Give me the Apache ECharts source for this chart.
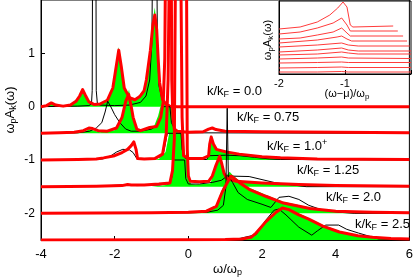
<!DOCTYPE html>
<html><head><meta charset="utf-8">
<script src="https://cdn.jsdelivr.net/npm/echarts@6/dist/echarts.min.js"></script>
<style>html,body{margin:0;padding:0;background:#fff}#c{width:416px;height:280px}</style>
</head><body><div id="c"></div>
<script>
// ---- main panel data: [omega/omega_p, height above the curve's baseline] ----
const offsets = [0, -0.5, -1, -1.5, -2, -2.5];
const rowLabels = ['0.0', '0.75', '1.0', '1.25', '2.0', '2.5'];
const xTicks = [-4, -2, 0, 2, 4, 6];
const yTicks = [-2, -1, 0, 1];

const red0 = [[-4,0],[-3.85,0.02],[-3.72,0.07],[-3.6,0.03],[-3.4,0.01],[-3.2,0.03],[-3.05,0.1],[-2.95,0.2],[-2.87,0.32],[-2.8,0.22],[-2.7,0.09],[-2.55,0.04],[-2.4,0.05],[-2.2,0.12],[-2.05,0.35],[-1.97,0.7],[-1.89,1.06],[-1.82,0.75],[-1.74,0.35],[-1.6,0.17],[-1.45,0.13],[-1.32,0.19],[-1.2,0.3],[-1.14,0.5],[-1.03,1.06],[-0.96,1.55],[-0.91,1.72],[-0.86,1.45],[-0.82,0.9],[-0.78,0.45],[-0.7,0.13],[-0.6,0.04],[-0.5,0.01],[-0.3,0],[6,0]];
const green0 = [[-4,0],[-3.85,0.03],[-3.72,0.08],[-3.6,0.03],[-3.4,0.01],[-3.2,0.04],[-3.05,0.1],[-2.95,0.2],[-2.87,0.3],[-2.8,0.2],[-2.7,0.08],[-2.55,0.04],[-2.4,0.05],[-2.2,0.12],[-2.05,0.35],[-1.97,0.72],[-1.89,1.12],[-1.82,0.75],[-1.74,0.35],[-1.6,0.17],[-1.45,0.13],[-1.32,0.19],[-1.2,0.3],[-1.14,0.5],[-1.03,1.1],[-0.96,1.65],[-0.91,1.86],[-0.86,1.5],[-0.82,0.9],[-0.78,0.45],[-0.7,0.13],[-0.6,0.04],[-0.5,0],[6,0]];
const black0 = [[-4,0],[-3,0.01],[-2.7,0.02],[-2.63,0.05],[-2.61,0.3],[-2.6,3],[-2.51,3],[-2.5,0.3],[-2.47,0.06],[-2.4,0.03],[-2,0.02],[-1.6,0.03],[-1.3,0.08],[-1.15,0.2],[-1.05,0.5],[-0.99,1.2],[-0.97,3],[-0.86,3],[-0.84,1.2],[-0.8,0.4],[-0.72,0.15],[-0.6,0.05],[-0.45,0.01],[-0.3,0],[6,0]];

const red1 = [[-4,0],[-3.5,0.01],[-3.1,0.02],[-2.85,0.05],[-2.7,0.1],[-2.6,0.09],[-2.45,0.05],[-2.2,0.04],[-1.95,0.1],[-1.8,0.3],[-1.7,0.6],[-1.62,0.73],[-1.55,0.5],[-1.5,0.3],[-1.4,0.08],[-1.3,0.05],[-1.05,0.11],[-0.86,0.13],[-0.75,0.3],[-0.68,0.6],[-0.64,1.4],[-0.61,4],[-0.47,4],[-0.45,1.0],[-0.42,0.3],[-0.38,0.08],[-0.3,0.04],[0,0.02],[0.4,0.03],[0.55,0.08],[0.65,0.1],[0.75,0.07],[1,0.04],[2,0.03],[4,0.02],[6,0.01]];
const green1 = [[-4,0],[-3,0.01],[-2.8,0.03],[-2.7,0.08],[-2.6,0.06],[-2.4,0.02],[-2.0,0.06],[-1.85,0.18],[-1.75,0.4],[-1.66,0.7],[-1.61,0.82],[-1.55,0.55],[-1.5,0.3],[-1.4,0.08],[-1.3,0.03],[-1.05,0.09],[-0.92,0.15],[-0.82,0.33],[-0.76,0.5],[-0.46,0.5],[-0.43,0.3],[-0.38,0.06],[-0.25,0.01],[0,0],[6,0]];
const black1 = [[-4,0],[-3,0.01],[-2.68,0.04],[-2.5,0.1],[-2.35,0.2],[-2.26,0.4],[-2.19,0.6],[-2.12,0.52],[-2.0,0.35],[-1.86,0.2],[-1.7,0.08],[-1.55,0.04],[-1.3,0.04],[-1.0,0.08],[-0.85,0.15],[-0.75,0.3],[-0.7,0.5],[-0.5,0.5],[-0.46,0.2],[-0.35,0.05],[0,0.01],[6,0]];

const red2 = [[-4,0],[-3,0.01],[-2.5,0.02],[-2.3,0.04],[-2.0,0.08],[-1.8,0.14],[-1.65,0.2],[-1.55,0.27],[-1.48,0.34],[-1.45,0.36],[-1.42,0.2],[-1.38,0.03],[-1.2,0.02],[-0.9,0.03],[-0.7,0.11],[-0.6,0.5],[-0.55,1.5],[-0.51,4],[-0.21,4],[-0.17,0.8],[-0.13,0.08],[0,0.03],[0.4,0.03],[0.55,0.08],[0.58,0.3],[0.62,0.43],[0.68,0.3],[0.76,0.2],[1.03,0.15],[1.38,0.11],[2,0.06],[2.5,0.04],[3.5,0.02],[6,0.01]];
const green2 = [[-4,0],[-1,0],[-0.8,0.02],[-0.62,0.15],[-0.55,0.4],[-0.52,0.5],[-0.14,0.5],[-0.11,0.2],[-0.06,0.03],[0,0.01],[0.5,0.01],[0.56,0.2],[0.61,0.47],[0.65,0.4],[0.7,0.25],[0.8,0.18],[1,0.14],[1.5,0.09],[2,0.05],[3,0.02],[6,0]];
const black2 = [[-4,0],[-2.5,0.01],[-2.32,0.02],[-2.1,0.08],[-1.95,0.15],[-1.78,0.2],[-1.6,0.19],[-1.5,0.14],[-1.42,0.05],[-1.38,0.01],[-1,0.02],[-0.75,0.06],[-0.68,0.12],[-0.6,0.4],[-0.57,0.5],[-0.2,0.5],[-0.17,0.2],[-0.1,0.04],[0,0.01],[0.5,0.01],[0.55,0.08],[0.6,0.1],[1.0,0.09],[1.4,0.08],[1.8,0.05],[2.2,0.02],[2.5,0.01],[6,0]];

const red3 = [[-4,0],[-2.5,0.01],[-1.8,0.02],[-1.65,0.04],[-1.6,0.05],[-1.55,0.03],[-1.2,0.03],[-0.8,0.05],[-0.5,0.07],[-0.43,0.3],[-0.38,0.9],[-0.35,4],[-0.05,4],[-0.03,0.7],[0.0,0.2],[0.05,0.1],[0.3,0.09],[0.55,0.1],[0.65,0.2],[0.75,0.4],[0.85,0.57],[0.91,0.42],[0.97,0.25],[1.05,0.15],[1.3,0.1],[2,0.07],[3,0.04],[4,0.02],[6,0.01]];
const green3 = [[-4,0],[-1,0],[-0.6,0.03],[-0.46,0.12],[-0.41,0.4],[-0.38,0.5],[0.0,0.5],[0.03,0.15],[0.07,0.05],[0.2,0.04],[0.6,0.06],[0.68,0.25],[0.78,0.5],[0.85,0.6],[0.91,0.45],[0.97,0.27],[1.1,0.15],[1.5,0.1],[2,0.07],[3,0.03],[6,0]];
const black3 = [[-4,0],[-2.5,0.01],[-1.8,0.03],[-1.6,0.04],[-1.4,0.02],[-0.8,0.03],[-0.5,0.06],[-0.44,0.2],[-0.4,0.5],[-0.1,0.5],[-0.07,0.15],[0,0.05],[0.3,0.05],[0.65,0.08],[0.9,0.12],[1.05,0.2],[1.1,0.22],[1.65,0.19],[2.38,0.07],[3.2,0],[6,0]];

const red4 = [[-4,0],[-1,0.01],[0,0.02],[0.49,0.04],[0.76,0.13],[0.92,0.4],[1.1,0.63],[1.16,0.7],[1.22,0.67],[1.38,0.58],[1.65,0.45],[2.1,0.32],[2.55,0.2],[3.3,0.09],[4,0.04],[5,0.02],[6,0.01]];
const green4 = [[-4,0],[0,0.01],[0.45,0.02],[0.6,0.06],[0.76,0.16],[0.92,0.45],[1.05,0.72],[1.12,0.78],[1.2,0.72],[1.38,0.61],[1.65,0.48],[2.1,0.35],[2.55,0.22],[3.3,0.11],[4,0.05],[5,0.02],[6,0.01]];
const black4 = [[-4,0],[0,0.01],[0.5,0.02],[0.8,0.06],[0.95,0.15],[1.02,0.5],[1.055,1.97],[1.085,0.7],[1.2,0.58],[1.35,0.39],[1.6,0.26],[2.0,0.17],[2.24,0.11],[2.46,0.3],[2.73,0.32],[3.0,0.26],[3.27,0.15],[3.6,0.07],[4.1,0.02],[4.5,0],[6,0]];

const red5 = [[-4,0],[0,0.005],[1,0.01],[1.45,0.02],[1.7,0.05],[1.84,0.13],[2.1,0.34],[2.38,0.52],[2.55,0.6],[2.73,0.57],[3.0,0.47],[3.27,0.39],[3.65,0.26],[4.1,0.15],[4.6,0.08],[5.0,0.05],[5.5,0.03],[6,0.02]];
const green5 = [[-4,0],[1,0.01],[1.45,0.03],[1.7,0.07],[1.84,0.16],[2.1,0.37],[2.38,0.56],[2.55,0.63],[2.73,0.6],[3.0,0.5],[3.27,0.41],[3.65,0.28],[4.1,0.17],[4.6,0.09],[5.0,0.06],[5.5,0.03],[6,0.02]];
const black5 = [[-4,0],[1,0.005],[1.4,0.03],[1.84,0.1],[2.1,0.37],[2.33,0.56],[2.46,0.58],[2.65,0.47],[3.0,0.24],[3.35,0.09],[3.5,0.17],[3.73,0.28],[4.08,0.28],[4.3,0.2],[4.62,0.13],[5.16,0.02],[6,0]];

const reds = [red0, red1, red2, red3, red4, red5];
const greens = [green0, green1, green2, green3, green4, green5];
const blacks = [black0, black1, black2, black3, black4, black5];

// ---- inset data: [(omega-mu)/omega_p, stacked height] ----
const insetTicks = [-2, -1];
const inset1 = [[-2,45],[-1.68,47],[-1.42,52],[-1.23,59],[-1.11,66],[-1.03,72],[-0.97,67],[-0.92,49],[-0.88,47],[-0.27,48]];
const inset2 = [[-2,40],[-1.68,42],[-1.42,46],[-1.18,51],[-1.05,56],[-0.97,49],[-0.92,43],[-0.2,43]];
const inset3 = [[-2,35],[-1.68,36],[-1.42,39],[-1.18,42],[-1.05,46],[-0.97,41],[-0.92,38],[-0.12,38]];
const inset4 = [[-2,31],[-1.42,34],[-1.12,37],[-1.05,38],[-0.97,35],[-0.9,33],[-0.06,33]];
const inset5 = [[-2,27],[-1.42,29],[-1.05,31],[-0.95,29],[-0.8,28],[-0.02,28]];
const inset6 = [[-2,22],[-1.42,24],[-1.05,26],[-0.95,24],[-0.8,23],[0,23]];
const inset7 = [[-2,19],[-1.42,20],[-1.05,22],[-0.95,21],[-0.8,20],[0,20]];
const inset8 = [[-2,15],[-1.42,16],[-1.05,17],[-0.95,16],[0,15.5]];
const inset9 = [[-2,11],[-1.42,11.5],[-1.05,12],[-0.95,11.5],[0,11.5]];
const inset10 = [[-2,6],[-1.42,6.5],[-1.05,7],[-0.95,6.5],[0,6.5]];
const inset11 = [[-2,2],[-1.42,2],[-1.05,2.5],[-0.95,2],[0,2]];
const insetLines = [inset1, inset2, inset3, inset4, inset5, inset6, inset7, inset8, inset9, inset10, inset11];

const FONT = 'Liberation Sans, Arial, Helvetica, sans-serif';
const series = [];
for (let r = 0; r < 6; r++) {
  const off = offsets[r];
  series.push({type:'line', xAxisIndex:0, yAxisIndex:0, symbol:'none', silent:true, clip:true,
    data: greens[r].map(p => [p[0], off + p[1]]),
    lineStyle:{width:0, color:'#00ff00'}, itemStyle:{color:'#00ff00'},
    areaStyle:{color:'#00ff00', opacity:1, origin: off}});
  series.push({type:'line', xAxisIndex:0, yAxisIndex:0, symbol:'none', silent:true, clip:true,
    data: blacks[r].map(p => [p[0], off + p[1]]),
    lineStyle:{width:1, color:'#000'}, itemStyle:{color:'#000'}});
  series.push({type:'line', xAxisIndex:0, yAxisIndex:0, symbol:'none', silent:true, clip:true,
    data: reds[r].map(p => [p[0], off + p[1]]),
    lineStyle:{width:3, color:'#ff0000', join:'round'}, itemStyle:{color:'#ff0000'}});
}
insetLines.forEach(l => series.push({type:'line', xAxisIndex:1, yAxisIndex:1, symbol:'none', silent:true, z:20,
  data: l, lineStyle:{width:1, color:'#ff3b3b'}, itemStyle:{color:'#ff3b3b'}}));

const rich = {
  n:{fontSize:13, fontFamily:FONT, lineHeight:16, verticalAlign:'middle', fill:'#000'},
  s:{fontSize:9, fontFamily:FONT, lineHeight:8, verticalAlign:'bottom', fill:'#000'},
  u:{fontSize:9, fontFamily:FONT, lineHeight:8, verticalAlign:'top', fill:'#000'}
};
const labelPos = [[207,93],[237,119],[267,146],[297,172],[326,199],[355,226]];
const graphics = rowLabels.map((v, i) => ({
  type:'text', left:labelPos[i][0], top:labelPos[i][1]-8, z:100,
  style:{text:'{n|k/k}{s|F}{n| = ' + v + '}' + (i === 2 ? '{u|+}' : ''), rich:rich}
}));
graphics.push({type:'text', left:213, top:263, z:100,
  style:{text:'{n|ω/ω}{s|p}', rich:rich}});
graphics.push({type:'text', x:10, y:110, rotation:Math.PI/2, z:100,
  style:{text:'{n|ω}{s|p}{n|A}{s|k}{n|(ω)}', rich:rich, align:'center', verticalAlign:'middle'}});
const rich2 = {
  n:{fontSize:11, fontFamily:FONT, lineHeight:14, verticalAlign:'middle', fill:'#000'},
  s:{fontSize:8, fontFamily:FONT, lineHeight:7, verticalAlign:'bottom', fill:'#000'}
};
graphics.push({type:'text', x:347, y:94, z:100,
  style:{text:'{n|(ω−μ)/ω}{s|p}', rich:rich2, align:'center', verticalAlign:'middle'}});
graphics.push({type:'text', x:268, y:40, rotation:Math.PI/2, z:100,
  style:{text:'{n|ω}{s|p}{n|A}{s|k}{n|(ω)}', rich:rich2, align:'center', verticalAlign:'middle'}});

const chart = echarts.init(document.getElementById('c'), null, {renderer:'canvas'});
chart.setOption({
  animation:false,
  backgroundColor:'#fff',
  grid:[
    {left:41, right:5, top:0, bottom:40, show:true, borderColor:'#000', borderWidth:1, backgroundColor:'transparent'},
    {left:279, top:1, width:132, height:73, show:true, borderColor:'#000', borderWidth:1, backgroundColor:'transparent'}
  ],
  xAxis:[
    {type:'value', gridIndex:0, min:-4, max:6, interval:2,
      axisLine:{onZero:false, lineStyle:{color:'#000'}}, splitLine:{show:false},
      axisTick:{inside:true, length:4, lineStyle:{color:'#000'}, customValues:xTicks},
      axisLabel:{color:'#000', fontSize:13, fontFamily:FONT, margin:8, customValues:xTicks}},
    {type:'value', gridIndex:1, min:-2, max:0, interval:1,
      axisLine:{onZero:false, lineStyle:{color:'#000'}}, splitLine:{show:false},
      axisTick:{inside:true, length:4, lineStyle:{color:'#000'}},
      axisLabel:{color:'#000', fontSize:11, fontFamily:FONT, margin:4, customValues:insetTicks}}
  ],
  yAxis:[
    {type:'value', gridIndex:0, min:-2.5, max:2,
      axisLine:{show:true, onZero:false, lineStyle:{color:'#000'}}, splitLine:{show:false},
      axisTick:{show:true, inside:true, length:4, lineStyle:{color:'#000'}, customValues:yTicks},
      axisLabel:{color:'#000', fontSize:12, fontFamily:FONT, margin:6, customValues:yTicks}},
    {type:'value', gridIndex:1, min:0, max:73,
      axisLine:{show:true, onZero:false, lineStyle:{color:'#000'}}, splitLine:{show:false},
      axisTick:{show:false}, axisLabel:{show:false}}
  ],
  graphic: graphics,
  series: series
});
</script></body></html>
